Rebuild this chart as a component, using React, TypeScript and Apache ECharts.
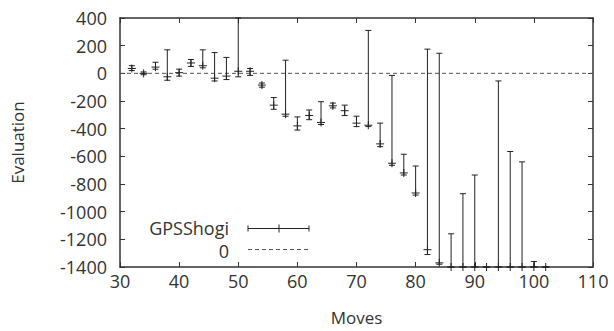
import React, { useEffect, useRef } from "react";
import * as echarts from "echarts";

const moves = [32, 34, 36, 38, 40, 42, 44, 46, 48, 50, 52, 54, 56, 58, 60, 62, 64, 66, 68, 70, 72, 74, 76, 78, 80, 82, 84, 86, 88, 90, 92, 94, 96, 98, 100, 102];
const evals = [35, 0, 45, -25, 5, 75, 55, -35, -20, 15, 15, -85, -230, -295, -380, -305, -355, -235, -270, -360, -375, -510, -650, -720, -865, -1275, -1370, -1400, -1400, -1400, -1400, -1400, -1400, -1400, -1400, -1400];
const lows = [20, -10, 30, -50, -20, 50, 40, -55, -45, -25, -15, -100, -260, -310, -410, -335, -370, -250, -305, -385, -385, -530, -665, -735, -880, -1310, -1380, -1400, -1400, -1400, -1400, -1400, -1400, -1400, -1400, -1400];
const highs = [55, 10, 80, 170, 30, 100, 170, 150, 115, 400, 35, -70, -175, 95, -315, -265, -205, -215, -230, -310, 310, -360, -15, -585, -670, 175, 145, -1160, -870, -735, -1400, -55, -565, -640, -1360, -1400];
const zeroLine = [[30, 0], [110, 0]];
const xTicks = { min: 30, max: 110, interval: 10 };
const yTicks = { min: -1400, max: 400, interval: 200 };

const FONT = "Open Sans";
const TXT = "#333";

export default function App() {
  const ref = useRef<HTMLDivElement>(null);
  useEffect(() => {
    document.body.style.margin = "0";
    const chart = echarts.init(ref.current!, null, { renderer: "svg" });
    const data = moves.map((m, i) => [m, evals[i], lows[i], highs[i]]);
    const lineStyle = { stroke: "#222", lineWidth: 1 };
    const axisLine = { show: true, onZero: false, lineStyle: { color: "#333", width: 1.5 } };
    const axisTick = { show: true, inside: true, length: 5, lineStyle: { color: "#333", width: 1 } };
    const plain = (v: number) => String(v);
    chart.setOption({
      animation: false,
      grid: { left: 120, right: 21, top: 18, bottom: 64 },
      xAxis: [
        {
          type: "value", ...xTicks, position: "bottom",
          axisLine, axisTick, splitLine: { show: false },
          axisLabel: { color: TXT, fontFamily: FONT, fontSize: 18, margin: 5, formatter: plain },
          name: "Moves", nameLocation: "middle", nameGap: 42,
          nameTextStyle: { color: TXT, fontFamily: FONT, fontSize: 17 },
        },
        {
          type: "value", ...xTicks, position: "top",
          axisLine, axisTick, splitLine: { show: false }, axisLabel: { show: false },
        },
      ],
      yAxis: [
        {
          type: "value", ...yTicks, position: "left",
          axisLine, axisTick, splitLine: { show: false },
          axisLabel: { color: TXT, fontFamily: FONT, fontSize: 18, margin: 13, formatter: plain },
          name: "Evaluation", nameLocation: "middle", nameGap: 94,
          nameTextStyle: { color: TXT, fontFamily: FONT, fontSize: 17 },
        },
        {
          type: "value", ...yTicks, position: "right",
          axisLine, axisTick, splitLine: { show: false }, axisLabel: { show: false },
        },
      ],
      series: [
        {
          type: "line",
          data: zeroLine,
          symbol: "none",
          lineStyle: { color: "#555", width: 1, type: [4, 3] },
          z: 1,
        },
        {
          type: "custom",
          data,
          clip: false,
          z: 2,
          renderItem: (params: any, api: any) => {
            const x = api.value(0), y = api.value(1), lo = api.value(2), hi = api.value(3);
            const p = api.coord([x, y]);
            const pl = api.coord([x, lo]);
            const ph = api.coord([x, hi]);
            const cap = 3, cr = 4;
            return {
              type: "group",
              children: [
                { type: "line", shape: { x1: p[0], y1: ph[1], x2: p[0], y2: pl[1] }, style: lineStyle },
                { type: "line", shape: { x1: p[0] - cap, y1: ph[1], x2: p[0] + cap, y2: ph[1] }, style: lineStyle },
                { type: "line", shape: { x1: p[0] - cap, y1: pl[1], x2: p[0] + cap, y2: pl[1] }, style: lineStyle },
                { type: "line", shape: { x1: p[0] - cr, y1: p[1], x2: p[0] + cr, y2: p[1] }, style: lineStyle },
                { type: "line", shape: { x1: p[0], y1: p[1] - cr, x2: p[0], y2: p[1] + cr }, style: lineStyle },
              ],
            };
          },
        },
      ],
      graphic: [
        { type: "text", x: 229, y: 228, style: { text: "GPSShogi", fill: TXT, font: `18px "${FONT}"`, lineHeight: 18, align: "right", verticalAlign: "middle" } },
        { type: "text", x: 229, y: 251, style: { text: "0", fill: TXT, font: `18px "${FONT}"`, lineHeight: 18, align: "right", verticalAlign: "middle" } },
        { type: "line", shape: { x1: 248, y1: 228.5, x2: 309, y2: 228.5 }, style: { stroke: "#222", lineWidth: 1 } },
        { type: "line", shape: { x1: 248, y1: 225.5, x2: 248, y2: 231.5 }, style: { stroke: "#222", lineWidth: 1 } },
        { type: "line", shape: { x1: 309, y1: 225.5, x2: 309, y2: 231.5 }, style: { stroke: "#222", lineWidth: 1 } },
        { type: "line", shape: { x1: 279, y1: 224.5, x2: 279, y2: 232.5 }, style: { stroke: "#222", lineWidth: 1 } },
        { type: "line", shape: { x1: 248, y1: 249.5, x2: 309, y2: 249.5 }, style: { stroke: "#555", lineWidth: 1, lineDash: [4, 3] } },
      ],
    });
    return () => chart.dispose();
  }, []);
  return <div ref={ref} style={{ width: 614, height: 331 }} />;
}
